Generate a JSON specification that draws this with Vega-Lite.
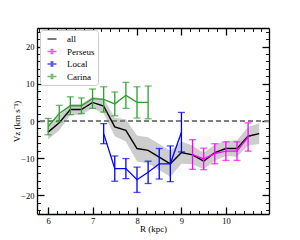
{
  "$schema": "https://vega.github.io/schema/vega-lite/v6.json",
  "width": 232,
  "height": 186,
  "autosize": {"type": "none"},
  "padding": {"left": 37, "top": 28, "right": 31, "bottom": 26},
  "background": "white",
  "config": {
    "font": "Liberation Serif",
    "view": {"stroke": null},
    "axis": {
      "domainColor": "black", "domainWidth": 1.3, "tickColor": "black",
      "labelColor": "black", "labelFont": "Liberation Serif", "labelFontSize": 8.5,
      "titleFont": "Liberation Serif", "titleFontWeight": "normal", "titleFontSize": 9,
      "titleColor": "black", "grid": false, "labelOverlap": false, "labelFlush": false, "labelBound": false
    }
  },
  "data": {
    "values": [
      {"series": "all", "R": 6.00, "V": -3.0, "err": 2.0},
      {"series": "all", "R": 6.25, "V": -0.5, "err": 2.0},
      {"series": "all", "R": 6.50, "V": 3.1, "err": 1.5},
      {"series": "all", "R": 6.75, "V": 3.1, "err": 1.5},
      {"series": "all", "R": 7.00, "V": 5.0, "err": 1.5},
      {"series": "all", "R": 7.25, "V": 4.0, "err": 2.0},
      {"series": "all", "R": 7.50, "V": -1.6, "err": 2.5},
      {"series": "all", "R": 7.75, "V": -2.5, "err": 3.0},
      {"series": "all", "R": 8.00, "V": -7.4, "err": 3.5},
      {"series": "all", "R": 8.25, "V": -7.9, "err": 3.5},
      {"series": "all", "R": 8.50, "V": -9.7, "err": 3.5},
      {"series": "all", "R": 8.75, "V": -11.5, "err": 3.5},
      {"series": "all", "R": 9.00, "V": -8.5, "err": 3.0},
      {"series": "all", "R": 9.25, "V": -9.1, "err": 2.5},
      {"series": "all", "R": 9.50, "V": -10.8, "err": 2.2},
      {"series": "all", "R": 9.75, "V": -8.5, "err": 2.2},
      {"series": "all", "R": 10.00, "V": -7.4, "err": 2.0},
      {"series": "all", "R": 10.25, "V": -7.4, "err": 2.2},
      {"series": "all", "R": 10.50, "V": -4.1, "err": 2.5},
      {"series": "all", "R": 10.75, "V": -3.4, "err": 2.8},
      {"series": "Perseus", "R": 9.25, "V": -9.0, "err": 4.0},
      {"series": "Perseus", "R": 9.50, "V": -10.2, "err": 2.9},
      {"series": "Perseus", "R": 9.75, "V": -8.8, "err": 2.7},
      {"series": "Perseus", "R": 10.00, "V": -8.1, "err": 2.5},
      {"series": "Perseus", "R": 10.25, "V": -8.1, "err": 2.5},
      {"series": "Perseus", "R": 10.50, "V": -4.3, "err": 3.8},
      {"series": "Local", "R": 7.25, "V": -3.4, "err": 2.7},
      {"series": "Local", "R": 7.50, "V": -12.8, "err": 3.4},
      {"series": "Local", "R": 7.75, "V": -12.8, "err": 2.7},
      {"series": "Local", "R": 8.00, "V": -15.8, "err": 3.4},
      {"series": "Local", "R": 8.25, "V": -13.8, "err": 3.0},
      {"series": "Local", "R": 8.50, "V": -11.5, "err": 4.1},
      {"series": "Local", "R": 8.75, "V": -11.5, "err": 4.8},
      {"series": "Local", "R": 9.00, "V": -3.0, "err": 5.3},
      {"series": "Carina", "R": 6.00, "V": -1.5, "err": 2.2},
      {"series": "Carina", "R": 6.25, "V": 2.0, "err": 2.2},
      {"series": "Carina", "R": 6.50, "V": 4.1, "err": 2.4},
      {"series": "Carina", "R": 6.75, "V": 4.1, "err": 2.1},
      {"series": "Carina", "R": 7.00, "V": 6.0, "err": 2.6},
      {"series": "Carina", "R": 7.25, "V": 5.8, "err": 3.4},
      {"series": "Carina", "R": 7.50, "V": 4.6, "err": 3.2},
      {"series": "Carina", "R": 7.75, "V": 6.9, "err": 3.5},
      {"series": "Carina", "R": 8.00, "V": 5.0, "err": 4.2},
      {"series": "Carina", "R": 8.25, "V": 5.0, "err": 4.4}
    ]
  },
  "layer": [
    {
      "transform": [{"filter": "datum.series === 'all'"}],
      "mark": {"type": "errorband", "band": {"color": "#cdcdcd", "opacity": 1}},
      "encoding": {
        "x": {"field": "R", "type": "quantitative", "scale": {"domain": [5.75, 10.97], "nice": false, "zero": false}, "axis": null},
        "y": {"field": "V", "type": "quantitative", "scale": {"domain": [-25, 25], "nice": false, "zero": false}, "axis": null},
        "yError": {"field": "err"}
      }
    },
    {
      "mark": {"type": "rule", "color": "#808080", "strokeDash": [5, 3], "strokeWidth": 1.3},
      "encoding": {"y": {"datum": 0, "type": "quantitative", "axis": null}}
    },
    {
      "transform": [{"filter": "datum.series === 'all'"}],
      "mark": {"type": "line", "strokeWidth": 1.4},
      "encoding": {
        "x": {"field": "R", "type": "quantitative", "axis": {
          "orient": "top", "title": null, "labels": false,
          "values": [5.8,6.0,6.2,6.4,6.6,6.8,7.0,7.2,7.4,7.6,7.8,8.0,8.2,8.4,8.6,8.8,9.0,9.2,9.4,9.6,9.8,10.0,10.2,10.4,10.6,10.8],
          "tickSize": {"condition": {"test": "abs(datum.value - round(datum.value)) < 0.01", "value": -7}, "value": -3.5},
          "tickWidth": {"condition": {"test": "abs(datum.value - round(datum.value)) < 0.01", "value": 1.3}, "value": 0.9}
        }},
        "y": {"field": "V", "type": "quantitative", "axis": {
          "orient": "right", "title": null, "labels": false,
          "values": [-24,-22,-20,-18,-16,-14,-12,-10,-8,-6,-4,-2,0,2,4,6,8,10,12,14,16,18,20,22,24],
          "tickSize": {"condition": {"test": "datum.value % 10 === 0", "value": -7}, "value": -3.5},
          "tickWidth": {"condition": {"test": "datum.value % 10 === 0", "value": 1.3}, "value": 0.9}
        }},
        "color": {"field": "series", "type": "nominal"}
      }
    },
    {
      "transform": [{"filter": "datum.series !== 'all'"}],
      "mark": {"type": "errorbar", "ticks": {"size": 7, "thickness": 1.3}, "rule": {"strokeWidth": 1.3}},
      "encoding": {
        "x": {"field": "R", "type": "quantitative", "axis": null},
        "y": {"field": "V", "type": "quantitative", "axis": null},
        "yError": {"field": "err"},
        "color": {"field": "series", "type": "nominal"}
      }
    },
    {
      "transform": [{"filter": "datum.series !== 'all'"}],
      "mark": {"type": "line", "strokeWidth": 1.3},
      "encoding": {
        "x": {"field": "R", "type": "quantitative", "axis": {
          "orient": "bottom", "title": null, "labels": false, "domain": false,
          "values": [5.8,6.2,6.4,6.6,6.8,7.2,7.4,7.6,7.8,8.2,8.4,8.6,8.8,9.2,9.4,9.6,9.8,10.2,10.4,10.6,10.8],
          "tickSize": -3.5, "tickWidth": 0.9
        }},
        "y": {"field": "V", "type": "quantitative", "axis": null},
        "color": {"field": "series", "type": "nominal"}
      }
    },
    {
      "transform": [{"filter": "datum.R > 100"}],
      "mark": {"type": "point", "filled": false},
      "encoding": {
        "x": {"field": "R", "type": "quantitative", "axis": {
          "orient": "bottom", "title": "R (kpc)", "format": "d", "labelOverlap": false,
          "values": [6, 7, 8, 9, 10],
          "tickSize": -7, "tickWidth": 1.3,
          "labelPadding": 9, "titlePadding": 0
        }},
        "y": {"field": "V", "type": "quantitative", "axis": {
          "orient": "left", "title": "Vz (km s⁻¹)", "labelOverlap": false,
          "values": [-24,-22,-20,-18,-16,-14,-12,-10,-8,-6,-4,-2,0,2,4,6,8,10,12,14,16,18,20,22,24],
          "labelExpr": "datum.value % 10 === 0 ? datum.label : ''",
          "tickSize": {"condition": {"test": "datum.value % 10 === 0", "value": -7}, "value": -3.5},
          "tickWidth": {"condition": {"test": "datum.value % 10 === 0", "value": 1.3}, "value": 0.9},
          "labelPadding": 10, "titlePadding": -1
        }},
        "color": {
          "field": "series", "type": "nominal",
          "scale": {"domain": ["all", "Perseus", "Local", "Carina"], "range": ["#000000", "#ff00ff", "#0000ff", "#2ca02c"]},
          "legend": {
            "title": null, "orient": "none", "legendX": 3, "legendY": 2,
            "labelFont": "Liberation Serif", "labelFontSize": 9, "labelColor": "black",
            "symbolSize": 100, "symbolStrokeWidth": 1.5, "symbolOffset": 3, "labelOffset": 9,
            "padding": 3, "rowPadding": 1.5, "strokeColor": "#cccccc", "cornerRadius": 3, "fillColor": "white"
          }
        },
        "shape": {
          "field": "series", "type": "nominal",
          "scale": {"domain": ["all", "Perseus", "Local", "Carina"], "range": [
            "M-0.9,0H0.9",
            "M-0.9,0H0.9M0,-0.4V0.4M-0.3,-0.4H0.3M-0.3,0.4H0.3",
            "M-0.9,0H0.9M0,-0.4V0.4M-0.3,-0.4H0.3M-0.3,0.4H0.3",
            "M-0.9,0H0.9M0,-0.4V0.4M-0.3,-0.4H0.3M-0.3,0.4H0.3"
          ]}
        }
      }
    }
  ],
  "resolve": {"axis": {"x": "independent", "y": "independent"}}
}
